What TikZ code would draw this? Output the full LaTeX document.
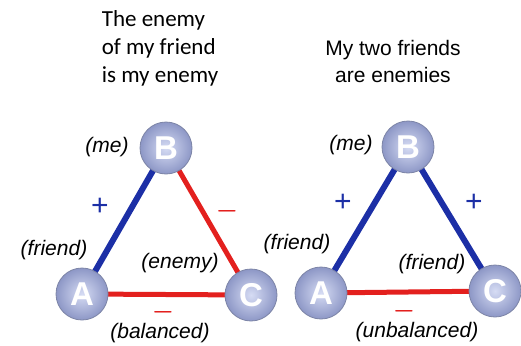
\documentclass[tikz,border=0pt]{standalone}
\usepackage{fontspec}
\setmainfont{Liberation Sans}
\newfontfamily\calibrifont{Carlito}
\usetikzlibrary{backgrounds}
\usepackage{xcolor}
\definecolor{ballLight}{HTML}{D6DCF4}
\definecolor{ballDark}{HTML}{8D97C6}
\definecolor{ballRim}{HTML}{7C84A6}
\definecolor{tieBlue}{HTML}{1C2FA6}
\definecolor{tieRed}{HTML}{E3201E}

\begin{document}
\begin{tikzpicture}[
    x=1pt, y=-1pt,
    person/.style={circle, minimum size=52pt, inner sep=0pt, draw=ballRim, line width=0.8pt,
        inner color=ballLight, outer color=ballDark,
        text=white, font=\fontsize{33}{33}\selectfont\bfseries},
    friendtie/.style={draw=tieBlue, line width=6pt},
    enemytie/.style={draw=tieRed, line width=5pt},
    role/.style={font=\fontsize{21}{24}\selectfont\itshape},
    sign/.style={font=\fontsize{30}{30}\selectfont\boldmath}
]
    \useasboundingbox (0,0) rectangle (521,345);

    % titles
    \node[align=left, font=\calibrifont\fontsize{23}{28}\selectfont] (titleL) at (160,48)
        {The enemy\\of my friend\\is my enemy};
    \node[align=center, font=\fontsize{21}{27}\selectfont] (titleR) at (393,61)
        {My two friends\\are enemies};

    % left triangle (balanced)
    \node[person] (lA) at (82,294) {A};
    \node[person] (lB) at (166,148) {B};
    \node[person] (lC) at (251,295) {C};
    \begin{scope}[on background layer]
    \path (lA.center) edge[friendtie] (lB.center)
          (lB.center) edge[enemytie] (lC.center)
          (lA.center) edge[enemytie] (lC.center);
    \end{scope}

    \node[role] (meL) at (107,147) {(me)};
    \node[role] (friendL) at (54,250) {(friend)};
    \node[role] (enemyL) at (180,263) {(enemy)};
    \node[role] (balL) at (160,333) {(balanced)};
    \node[sign, text=tieBlue] (plusL) at (100,207) {+};
    \node[sign, text=tieRed] (minusBC) at (227,211) {$-$};
    \node[sign, text=tieRed] (minusAC) at (163,312) {$-$};

    % right triangle (unbalanced)
    \node[person] (rA) at (321,293) {A};
    \node[person] (rB) at (408,147) {B};
    \node[person] (rC) at (495,291) {C};
    \begin{scope}[on background layer]
    \path (rA.center) edge[friendtie] (rB.center)
          (rB.center) edge[friendtie] (rC.center)
          (rA.center) edge[enemytie] (rC.center);
    \end{scope}

    \node[role] (meR) at (351,145) {(me)};
    \node[role] (friendR) at (297,244) {(friend)};
    \node[role] (friendC) at (432,264) {(friend)};
    \node[role] (unbalR) at (417,332) {(unbalanced)};
    \node[sign, text=tieBlue] (plusAB) at (343,203) {+};
    \node[sign, text=tieBlue] (plusBC) at (474,203) {+};
    \node[sign, text=tieRed] (minusR) at (404,311) {$-$};
\end{tikzpicture}
\end{document}
